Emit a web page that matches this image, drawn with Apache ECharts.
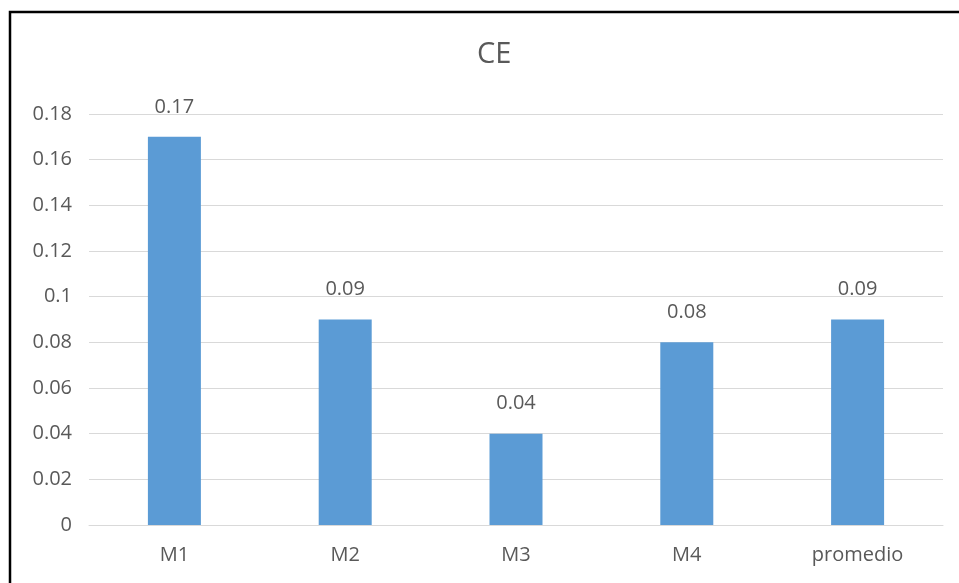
<!DOCTYPE html>
<html>
<head>
<meta charset="utf-8">
<script src="https://cdn.jsdelivr.net/npm/echarts@6/dist/echarts.min.js"></script>
<style>
  html, body { margin: 0; padding: 0; background: #fff; }
  #chart { width: 959px; height: 583px; }
</style>
</head>
<body>
<div id="chart"></div>
<script>
// CE per method, plus the average
const categories = ['M1', 'M2', 'M3', 'M4', 'promedio'];
const ceValues = [0.17, 0.09, 0.04, 0.08, 0.09];
const yTicks = [0, 0.02, 0.04, 0.06, 0.08, 0.1, 0.12, 0.14, 0.16, 0.18];

const textColor = '#595959';
const fontFamily = '"Open Sans", "Noto Sans", sans-serif';
const fmt = v => String(Math.round(v * 100) / 100);

const chart = echarts.init(document.getElementById('chart'), null, { renderer: 'canvas' });
chart.setOption({
  animation: false,
  backgroundColor: '#ffffff',
  title: {
    text: 'CE',
    left: 472,
    top: 35,
    textStyle: { color: textColor, fontSize: 29, fontWeight: 'normal', fontFamily }
  },
  grid: { left: 89, right: 16, top: 114, bottom: 58 },
  xAxis: {
    type: 'category',
    data: categories,
    axisLine: { show: true, lineStyle: { color: '#d9d9d9', width: 1 } },
    axisTick: { show: false },
    axisLabel: { color: textColor, fontSize: 20, fontFamily, margin: 20 }
  },
  yAxis: {
    type: 'value',
    min: yTicks[0],
    max: yTicks[yTicks.length - 1],
    interval: 0.02,
    axisLine: { show: false },
    axisTick: { show: false },
    splitLine: { lineStyle: { color: '#d9d9d9', width: 1 } },
    axisLabel: { color: textColor, fontSize: 20, fontFamily, margin: 17, formatter: fmt }
  },
  series: [{
    type: 'bar',
    data: ceValues,
    barWidth: 53,
    itemStyle: { color: '#5b9bd5' },
    label: {
      show: true,
      position: 'top',
      distance: 20,
      color: textColor,
      fontSize: 20,
      fontFamily,
      formatter: p => fmt(p.value)
    }
  }],
  graphic: [{
    type: 'polyline',
    shape: { points: [[10, 583], [10, 12], [959, 12]] },
    style: { stroke: '#000', lineWidth: 2.5, fill: null }
  }]
});
</script>
</body>
</html>
